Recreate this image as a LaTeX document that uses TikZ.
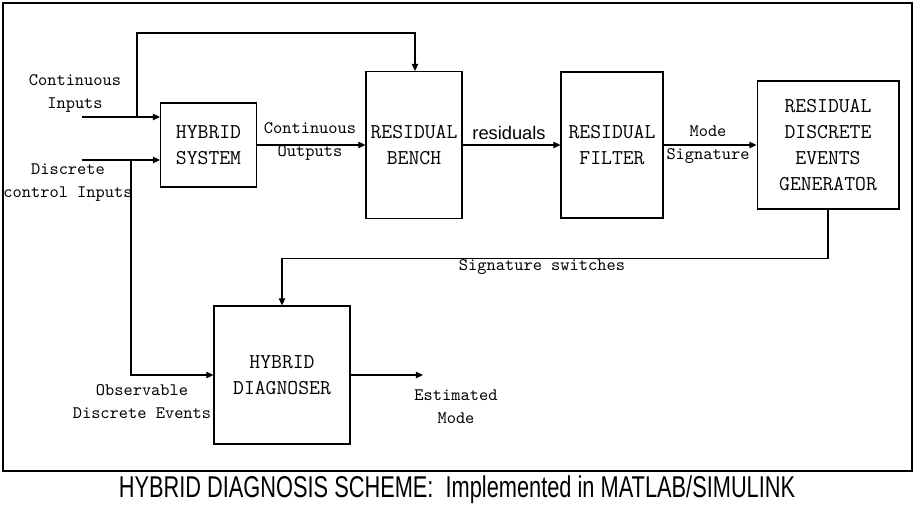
\documentclass[tikz,border=0pt]{standalone}
\usepackage{fontspec}
\usepackage{graphicx}
\setsansfont{Liberation Sans}
\usetikzlibrary{arrows.meta}

\begin{document}
\begin{tikzpicture}[
		x=0.02cm, y=-0.02cm,
		>={Triangle[length=4pt,width=3.6pt]},
		block/.style={rectangle, draw=black, line width=0.6pt, inner sep=0pt, align=center, font=\ttfamily\fontsize{12}{14.8}\selectfont},
		lbl/.style={align=center, inner sep=0pt, font=\ttfamily\fontsize{10}{13}\selectfont},
		wire/.style={line width=0.6pt, ->}
		]
		\useasboundingbox (0,0) rectangle (915,506);
		\draw[line width=1.2pt] (3,3) rectangle (912,471);
		% blocks
		\node[block, minimum width=1.92cm, minimum height=1.68cm] (hybsys) at (208.5,145) {HYBRID\\SYSTEM};
		\node[block, minimum width=1.92cm, minimum height=2.94cm] (bench) at (414,145) {RESIDUAL\\BENCH};
		\node[block, minimum width=2.04cm, minimum height=2.92cm] (filter) at (612,145) {RESIDUAL\\FILTER};
		\node[block, minimum width=2.84cm, minimum height=2.56cm] (gen) at (828,145) {RESIDUAL\\DISCRETE\\EVENTS\\GENERATOR};
		\node[block, minimum width=2.72cm, minimum height=2.76cm] (diag) at (282,375) {HYBRID\\DIAGNOSER};
		% inputs and split points
		\coordinate (cin) at (82,117);
		\coordinate (din) at (82,160);
		\coordinate (split1) at (137,117);
		\coordinate (split2) at (131,160);
		\coordinate (top) at (415,33);
		\coordinate (est) at (423,375);
		% connectors
		\draw[wire] (cin) -- (cin -| hybsys.west);
		\draw[wire] (din) -- (din -| hybsys.west);
		\draw[wire] (split1) |- (top) -- (top |- bench.north);
		\draw[wire] (split2) |- (diag.west);
		\draw[wire] (hybsys.east) -- (bench.west);
		\draw[wire] (bench.east) -- (filter.west);
		\draw[wire] (filter.east) -- (gen.west);
		\draw[wire] (gen.south) -- ++(0,49) -| (diag.north);
		\draw[wire] (diag.east) -- (est);
		% labels
		\node[lbl] (lcin) at (75,93.5) {Continuous\\Inputs};
		\node[lbl] (ldin) at (68,183) {Discrete\\control Inputs};
		\node[lbl] (lcout) at (310,141.5) {Continuous\\Outputs};
		\node[inner sep=0pt, font=\sffamily\fontsize{10.4}{12}\selectfont] (lres) at (509,133) {residuals};
		\node[lbl] (lmode) at (708,144.5) {Mode\\Signature};
		\node[lbl] (lsw) at (542,267) {Signature switches};
		\node[lbl] (lobs) at (142,402) {Observable\\Discrete Events};
		\node[lbl] (lest) at (456,406.5) {Estimated\\Mode};
		\node[inner sep=0pt, font=\sffamily\fontsize{12.4}{15}\selectfont] (caption) at (457,490) {\scalebox{1}[1.38]{HYBRID DIAGNOSIS SCHEME:\ \ Implemented in MATLAB/SIMULINK}};
	\end{tikzpicture}
\end{document}
